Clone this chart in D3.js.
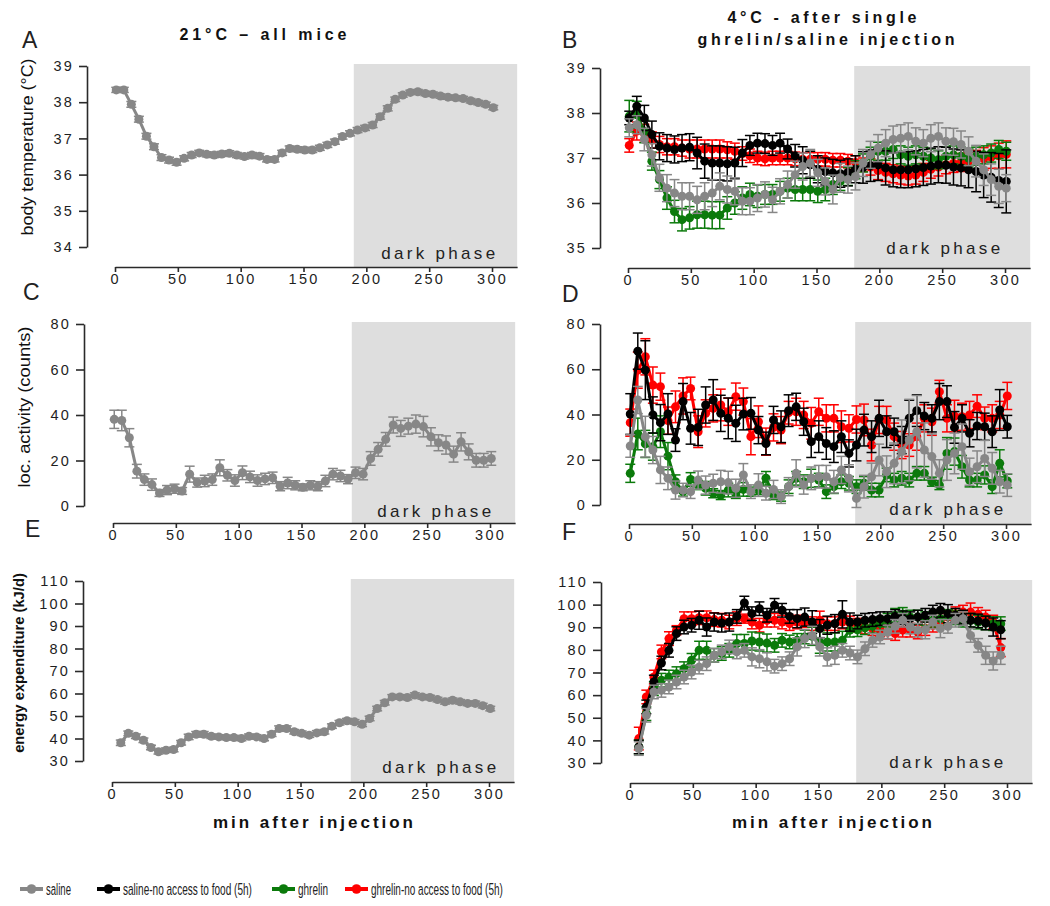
<!DOCTYPE html>
<html><head><meta charset="utf-8">
<script src="https://cdn.jsdelivr.net/npm/d3@7"></script>
<style>
body{margin:0;background:#fff;}
svg text{font-family:"Liberation Sans",Arial,sans-serif;}
</style></head><body>
<svg id="chart" width="1050" height="906"></svg>
<script>
// ---------------- DATA ----------------
const seriesNames = ["saline","saline-no access to food (5h)","ghrelin","ghrelin-no access to food (5h)"];
const tTemp = [1,7,13,19,25,31,37,43,49,55,61,67,73,79,85,91,97,103,109,115,121,127,133,139,145,151,157,163,169,175,181,187,193,199,205,211,217,223,229,235,241,247,253,259,265,271,277,283,289,295,301];
const tEE_left = [7,13,19,25,31,37,43,49,55,61,67,73,79,85,91,97,103,109,115,121,127,133,139,145,151,157,163,169,175,181,187,193,199,205,211,217,223,229,235,241,247,253,259,265,271,277,283,289,295,301];
const tEE_right = [7,13,19,25,31,37,43,49,55,61,67,73,79,85,91,97,103,109,115,121,127,133,139,145,151,157,163,169,175,181,187,193,199,205,211,217,223,229,235,241,247,253,259,265,271,277,283,289,295];

const xTicks = [0,50,100,150,200,250,300];
const tempTicksA = [34,35,36,37,38,39];
const tempTicksB = [35,36,37,38,39];
const actTicks = [0,20,40,60,80];
const eeTicks = [30,40,50,60,70,80,90,100,110];

// A: body temperature, 21°C, saline
const tempA = [38.34,38.34,37.94,37.53,37.06,36.77,36.47,36.40,36.34,36.45,36.54,36.60,36.56,36.54,36.57,36.59,36.54,36.50,36.54,36.51,36.42,36.42,36.60,36.72,36.70,36.68,36.68,36.74,36.82,36.91,37.05,37.14,37.23,37.29,37.37,37.60,37.83,38.08,38.20,38.27,38.29,38.24,38.22,38.17,38.14,38.12,38.10,38.04,37.99,37.94,37.85];
const tempAerr = [0.07,0.07,0.08,0.08,0.08,0.08,0.08,0.08,0.08,0.07,0.07,0.07,0.07,0.07,0.07,0.07,0.07,0.07,0.07,0.07,0.07,0.07,0.07,0.07,0.07,0.07,0.07,0.07,0.07,0.07,0.07,0.07,0.07,0.07,0.07,0.07,0.07,0.06,0.06,0.06,0.06,0.06,0.06,0.06,0.06,0.06,0.06,0.06,0.06,0.06,0.06];

// B: body temperature, 4°C
const tempB_saline = [37.67,37.74,37.41,37.07,36.56,36.33,36.22,36.15,36.15,36.07,36.15,36.22,36.37,36.3,36.26,36.04,36.04,36.11,36.19,36.07,36.26,36.41,36.63,36.81,36.89,36.67,36.48,36.3,36.56,36.52,36.59,36.89,37.07,37.22,37.33,37.41,37.44,37.48,37.37,37.33,37.44,37.48,37.37,37.36,37.3,37.15,36.93,36.74,36.52,36.37,36.33];
const tempB_salineErr = [0.2,0.2,0.25,0.25,0.3,0.3,0.3,0.3,0.3,0.3,0.3,0.3,0.3,0.3,0.3,0.3,0.3,0.3,0.28,0.28,0.28,0.3,0.3,0.3,0.3,0.3,0.3,0.32,0.32,0.3,0.3,0.3,0.3,0.3,0.3,0.3,0.3,0.3,0.3,0.3,0.3,0.3,0.3,0.3,0.3,0.32,0.35,0.35,0.35,0.38,0.3];
const tempB_salineNF = [37.89,38.15,37.89,37.52,37.26,37.22,37.19,37.22,37.24,37.11,36.93,36.89,36.89,36.87,36.89,37.11,37.28,37.33,37.32,37.28,37.33,37.2,37.05,36.95,36.85,36.75,36.7,36.67,36.65,36.68,36.75,36.79,36.83,36.85,36.78,36.74,36.74,36.74,36.76,36.79,36.82,36.85,36.84,36.8,36.78,36.74,36.7,36.62,36.57,36.5,36.48];
const tempB_salineNFErr = [0.15,0.22,0.28,0.3,0.3,0.3,0.3,0.3,0.3,0.35,0.38,0.38,0.38,0.38,0.35,0.3,0.22,0.22,0.22,0.22,0.22,0.22,0.25,0.3,0.3,0.3,0.3,0.3,0.3,0.3,0.3,0.35,0.35,0.35,0.38,0.38,0.4,0.4,0.4,0.4,0.4,0.4,0.4,0.4,0.4,0.4,0.45,0.5,0.55,0.6,0.7];
const tempB_ghrelin = [37.93,37.96,37.59,36.93,36.52,36.11,35.81,35.63,35.67,35.74,35.74,35.73,35.73,35.89,36.0,36.11,36.19,36.15,36.19,36.19,36.26,36.33,36.3,36.3,36.3,36.26,36.3,36.41,36.48,36.59,36.74,36.89,37.04,37.15,37.15,37.19,37.07,37.04,37.07,37.04,37.0,36.96,37.04,37.07,37.04,37.0,37.04,37.07,37.11,37.19,37.15];
const tempB_ghrelinErr = [0.35,0.3,0.25,0.2,0.2,0.25,0.25,0.25,0.25,0.3,0.3,0.3,0.3,0.25,0.25,0.25,0.25,0.25,0.22,0.22,0.22,0.22,0.25,0.25,0.25,0.25,0.25,0.22,0.2,0.2,0.2,0.2,0.2,0.2,0.2,0.2,0.2,0.2,0.2,0.2,0.2,0.2,0.2,0.2,0.2,0.2,0.2,0.2,0.2,0.2,0.2];
const tempB_ghrelinNF = [37.28,37.6,37.55,37.4,37.3,37.25,37.25,37.22,37.2,37.2,37.2,37.2,37.2,37.18,37.15,37.1,37.05,37.0,36.98,37.0,37.0,37.0,36.98,36.97,36.97,36.97,36.97,36.95,36.95,36.93,36.9,36.85,36.8,36.72,36.68,36.65,36.62,36.6,36.62,36.68,36.75,36.8,36.85,36.88,36.9,36.93,36.95,36.98,37.02,37.05,37.08];
const tempB_ghrelinNFErr = [0.15,0.2,0.2,0.18,0.18,0.18,0.18,0.18,0.2,0.2,0.2,0.2,0.2,0.18,0.18,0.15,0.15,0.15,0.15,0.15,0.15,0.15,0.15,0.15,0.15,0.15,0.15,0.15,0.15,0.15,0.15,0.15,0.18,0.2,0.2,0.2,0.2,0.2,0.2,0.2,0.2,0.2,0.2,0.2,0.2,0.2,0.22,0.25,0.25,0.28,0.3];

// C: locomotor activity, 21°C, saline
const actC = [38.1,37.6,30,15.3,11.6,9.4,5.7,7,7.6,6.6,14,10.3,11,11.6,16.8,13.5,11.2,14.6,12.8,11.2,11.9,12.4,8.7,10.1,9.1,8.2,9.1,8.7,11,14,13.2,11.8,14.6,14,20.9,24.9,29.3,35.6,34.1,35.1,36,34.9,30.4,27.8,26.8,22.8,28.2,23.8,20.1,20.1,20.9];
const actCerr = [4,4.5,4,3,2.5,2.5,1.5,2,2,1.5,3.5,2,2.5,2.5,3.5,2.5,2.5,3,2.5,2.5,2.5,2.5,2,2.5,2,1.5,2,2,2.5,2.5,2.5,2,2.5,2.5,3,3,3,3.5,3.5,3.5,4,4.5,4,3.5,4,3.5,4,3.5,3,3,3];

// D: locomotor activity, 4°C
const actD_saline = [26.1,46.4,30.2,24.3,15.5,11.8,6.6,6.6,5.9,11,8.8,9.6,10.3,9.9,7.4,13.3,5.9,8.8,5.2,6.9,3.7,8.1,14,8.8,11.8,12.5,12.5,10.3,15.5,11.8,2.9,8.1,12.5,19.9,14.7,18.4,23.6,28.7,32.4,24.3,21.4,14,19.9,22.8,25.8,14.7,16.9,20.6,16.2,10.3,8.8];
const actD_salineErr = [5,6,9,6,6,5,4,3,3,4,4,4,5,5,4,5,3,5,3,4,3,4,6,4,5,5,5,5,6,6,4,5,6,7,7,9,14,18,16,12,10,6,9,9,10,6,7,8,7,5,5];
const actD_salineNF = [40.2,68,59.6,39.8,36.4,40.2,28.7,45.7,33.9,34.3,44.2,46.4,40.5,38.3,36.1,40.2,40.5,33.1,27.2,37.6,34.6,41.7,43.4,36.8,28,30.2,27.2,25.8,30.2,22.8,26.5,33.1,30.2,38.3,32.4,32.4,28.7,38.3,41.7,39.3,38.3,45.7,45.7,34.3,38.3,31.7,34.9,34.6,32.4,42,34.6];
const actD_salineNFErr = [9,8,13,8,8,9,5,8,7,8,8,9,8,9,8,7,7,6,5,6,7,7,6,6,7,7,7,7,7,6,7,7,7,8,7,6,6,8,7,6,6,8,7,7,6,6,6,6,7,9,5];
const actD_ghrelin = [14,31.4,27,25.8,32.4,21.6,10.3,5.9,11.3,8.8,7.4,5.2,4.4,6.6,4.9,6.9,5.9,6.6,11.8,4.4,3.7,8.1,11.8,10.3,11.8,11,5.9,8.1,10.3,9.6,8.1,9.6,6.6,6.6,13.3,11,11.8,11,14,14,10.3,8.8,22.8,23.6,16.9,11,11,13.3,8.1,18.4,10.6];
const actD_ghrelinErr = [4,7,6,6,7,6,3,2,3,2,3,2,2,3,2,3,2,2,3,2,2,3,3,3,4,3,3,3,3,3,3,3,3,3,3,3,3,3,3,3,2,2,7,6,5,3,3,4,3,6,3];
const actD_ghrelinNF = [36.4,59.6,65.5,53,52.3,37.3,43.4,48.2,51.5,32.4,40.5,42.7,44.2,41.2,47.9,45.7,30.2,36.8,28,34.3,33.1,40.8,41.2,39.8,36.1,41.2,38.3,38.3,34.6,33.9,37.8,37.6,26.5,37.6,37.6,30.2,26.5,26.5,30.2,38.3,36.8,50.1,38.3,39.3,39,39.8,43.7,38.3,38.3,39.8,48.2];
const actD_ghrelinNFErr = [6,8,8,8,6,6,7,8,5,7,6,6,7,6,6,6,8,7,6,6,6,5,6,6,7,6,6,6,7,6,6,7,7,6,6,6,6,5,6,6,6,5,6,7,6,6,5,5,6,6,6];

// E: energy expenditure, 21°C, saline
const eeE = [38.1,42.3,41.0,39.2,36.0,34.1,34.8,35.1,38.1,40.7,41.9,41.9,41.0,40.7,40.4,40.4,40.0,41.0,40.7,40.0,41.9,44.4,44.4,43.0,42.3,41.5,42.5,43.0,45.5,47.0,47.9,47.4,46.3,48.9,53.3,55.9,58.5,58.5,58.2,59.3,58.5,58.2,57.3,56.3,57.0,56.3,55.6,55.6,54.6,53.3];
const eeEerr = [1.2,1,1,1,1,1,1,1,1,1.2,1.2,1.2,1,1,1,1,1,1,1,1,1,1.2,1.2,1,1,1,1,1,1,1,1,1,1,1,1,1,1,1,1,1,1,1,1,1,1,1,1,1,1,1];

// F: energy expenditure, 4°C
const eeF_saline = [36.4,51.1,61.4,62.1,63.6,65.8,68.0,70.2,72.4,73.9,77.6,79.1,81.3,79.1,79.8,76.9,76.1,74.7,72.8,73.9,76.1,81.3,85.0,86.4,81.3,76.9,77.6,79.8,78.6,76.9,80.5,84.2,85.7,87.9,90.4,93.1,90.1,88.7,88.9,92.3,89.4,90.4,93.1,93.8,86.4,82.0,77.6,75.1,77.6];
const eeF_salineErr = [3,3,3,3,3,3,3,3,3,3,3,3,3,3,3,4,4,4,3,3,3,4,4,4,4,4,4,3,3,3,3,3,3,3,3,3,3,3,4,3,4,3,3,3,3,3,4,4,4];
const eeF_salineNF = [37.1,54.8,65.8,74.2,79.8,87.2,90.1,90.9,93.1,90.1,92.3,91.9,92.3,94.8,100.7,96,98.2,95.3,99.7,97.5,94.8,93.8,94.5,92.3,89.4,90.9,91.6,95.7,92.3,92.3,93.1,93.4,93.8,93.8,94.8,94.2,93.8,94.5,95.3,96.7,97.5,96,95.3,94.5,93.1,92.8,91.9,90.1,88.9];
const eeF_salineNFErr = [3,3,3,3,3,3,3,3,4,4,4,4,4,3,3,3,3,3,3,3,3,4,4,5,4,4,4,6,4,3,3,3,3,3,3,3,3,3,3,3,3,4,3,3,3,3,3,4,4];
const eeF_ghrelin = [37.1,51.8,62.9,66.6,68.0,69.5,71.7,75.4,79.8,79.8,77.6,78.4,79.8,82.8,82.8,83.9,83.5,83.0,82.0,84.2,83.5,84.2,85.7,86.0,83.5,83.5,83.5,84.2,88.7,88.9,89.8,90.4,91.6,93.1,95.3,95.7,94.5,94.5,93.8,93.1,93.8,94.8,94.2,93.1,93.1,92.3,91.9,91.6,91.6];
const eeF_ghrelinErr = [3,3,3,3,3,3,3,3,4,4,3,3,3,4,4,4,4,4,3,3,3,3,3,4,5,4,4,4,3,3,3,3,3,3,3,3,3,3,3,3,3,3,3,3,3,3,3,3,3];
const eeF_ghrelinNF = [40.8,59.2,68.0,79.1,85.0,88.7,93.8,93.8,94.2,94.2,93.4,93.1,92.3,93.8,93.8,92.3,90.9,93.1,93.1,92.3,91.6,92.3,91.9,91.6,93.1,91.6,91.6,92.3,91.9,90.9,90.1,89.4,88.9,87.9,87.2,88.7,88.7,87.9,89.4,90.9,93.1,94.5,96.0,96.7,96.7,95.7,94.5,92.3,81.0];
const eeF_ghrelinNFErr = [5,3,3,3,3,2,3,3,3,3,3,3,3,3,2,3,3,3,3,3,3,3,2,3,4,3,3,3,3,3,3,3,3,3,3,3,3,3,3,3,3,3,3,3,4,3,3,3,4];

// ---------------- STYLE ----------------
const colorOf = {
  "saline": "#878787",
  "saline-no access to food (5h)": "#000000",
  "ghrelin": "#0b7a0b",
  "ghrelin-no access to food (5h)": "#ff0000"
};
const drawOrder = ["ghrelin-no access to food (5h)","ghrelin","saline-no access to food (5h)","saline"];
const AX = "#2a2a2a";
const PXPERMIN = 1.2567;

const svg = d3.select("#chart");

function drawPanel(cfg) {
  const g = svg.append("g");
  const x = d3.scaleLinear().domain([0, 320]).range([cfg.x0, cfg.x0 + 320 * PXPERMIN]);
  const y = d3.scaleLinear().domain(cfg.yDomain).range([cfg.yBottom, cfg.yTop]);

  // dark phase
  g.append("rect")
    .attr("x", x(cfg.darkStart)).attr("width", x(320) - x(cfg.darkStart))
    .attr("y", cfg.yTop - 2).attr("height", cfg.xAxisY - cfg.yTop + 2)
    .attr("fill", "#dedede");
  g.append("text")
    .attr("x", x(320) - cfg.darkRight).attr("y", cfg.xAxisY - cfg.darkLift)
    .attr("text-anchor", "end").attr("font-size", 17).attr("fill", "#222")
    .attr("textLength", 114).attr("lengthAdjust", "spacing")
    .text("dark phase");

  // axes
  const ya = g.append("g").attr("transform", `translate(${cfg.yAxisX},0)`)
    .call(d3.axisLeft(y).tickValues(cfg.yTicks).tickFormat(d3.format("d"))
      .tickSize(8).tickPadding(5).tickSizeOuter(0));
  const xa = g.append("g").attr("transform", `translate(0,${cfg.xAxisY})`)
    .call(d3.axisBottom(x).tickValues(xTicks).tickFormat(d3.format("d"))
      .tickSize(5).tickPadding(2).tickSizeOuter(0));
  [ya, xa].forEach(a => {
    a.attr("font-family", null).attr("font-size", null);
    a.select(".domain").attr("stroke", AX).attr("stroke-width", 1.6);
    a.selectAll(".tick line").attr("stroke", AX).attr("stroke-width", 1.6);
    a.selectAll(".tick text").attr("fill", "#1e1e1e").attr("font-size", 14.5)
      .style("letter-spacing", "2.2px");
  });

  // series
  const errHalf = 5;
  cfg.series.sort((a, b) => drawOrder.indexOf(a.name) - drawOrder.indexOf(b.name));
  cfg.series.forEach(s => {
    const col = colorOf[s.name];
    const pts = s.t.map((t, i) => ({ t: t, v: s.v[i], e: s.e ? s.e[i] : 0 })).filter(d => d.v != null);
    const sg = g.append("g");
    const eb = sg.selectAll("g.eb").data(pts).join("g").attr("class", "eb")
      .attr("stroke", col).attr("stroke-width", 1.5);
    eb.append("line").attr("x1", d => x(d.t)).attr("x2", d => x(d.t))
      .attr("y1", d => y(d.v - d.e)).attr("y2", d => y(d.v + d.e));
    eb.append("line").attr("x1", d => x(d.t) - errHalf).attr("x2", d => x(d.t) + errHalf)
      .attr("y1", d => y(d.v + d.e)).attr("y2", d => y(d.v + d.e));
    eb.append("line").attr("x1", d => x(d.t) - errHalf).attr("x2", d => x(d.t) + errHalf)
      .attr("y1", d => y(d.v - d.e)).attr("y2", d => y(d.v - d.e));
    sg.append("path").datum(pts)
      .attr("d", d3.line().x(d => x(d.t)).y(d => y(d.v)))
      .attr("fill", "none").attr("stroke", col).attr("stroke-width", 3);
    sg.selectAll("circle").data(pts).join("circle")
      .attr("cx", d => x(d.t)).attr("cy", d => y(d.v)).attr("r", 4.5).attr("fill", col);
  });

  // panel letter
  svg.append("text").attr("x", cfg.letter[1]).attr("y", cfg.letter[2])
    .attr("font-size", 23).attr("fill", "#222").text(cfg.letter[0]);
}

// Panels
drawPanel({ x0: 115, yAxisX: 87, yTop: 66, yBottom: 247, yDomain: [34, 39], yTicks: tempTicksA,
  xAxisY: 267, darkStart: 190, darkRight: 22, darkLift: 8, letter: ["A", 22, 48],
  series: [{ name: "saline", t: tTemp, v: tempA, e: tempAerr }] });
drawPanel({ x0: 628, yAxisX: 600, yTop: 68, yBottom: 248, yDomain: [35, 39], yTicks: tempTicksB,
  xAxisY: 268, darkStart: 180, darkRight: 30, darkLift: 14, letter: ["B", 562, 48],
  series: [
    { name: "saline", t: tTemp, v: tempB_saline, e: tempB_salineErr },
    { name: "saline-no access to food (5h)", t: tTemp, v: tempB_salineNF, e: tempB_salineNFErr },
    { name: "ghrelin", t: tTemp, v: tempB_ghrelin, e: tempB_ghrelinErr },
    { name: "ghrelin-no access to food (5h)", t: tTemp, v: tempB_ghrelinNF, e: tempB_ghrelinNFErr }] });
drawPanel({ x0: 113, yAxisX: 84, yTop: 324, yBottom: 506, yDomain: [0, 80], yTicks: actTicks,
  xAxisY: 523, darkStart: 190, darkRight: 24, darkLift: 6, letter: ["C", 23, 300],
  series: [{ name: "saline", t: tTemp, v: actC, e: actCerr }] });
drawPanel({ x0: 629, yAxisX: 600, yTop: 324, yBottom: 505, yDomain: [0, 80], yTicks: actTicks,
  xAxisY: 524, darkStart: 180, darkRight: 28, darkLift: 9, letter: ["D", 562, 302],
  series: [
    { name: "saline", t: tTemp, v: actD_saline, e: actD_salineErr },
    { name: "saline-no access to food (5h)", t: tTemp, v: actD_salineNF, e: actD_salineNFErr },
    { name: "ghrelin", t: tTemp, v: actD_ghrelin, e: actD_ghrelinErr },
    { name: "ghrelin-no access to food (5h)", t: tTemp, v: actD_ghrelinNF, e: actD_ghrelinNFErr }] });
drawPanel({ x0: 112, yAxisX: 83, yTop: 581, yBottom: 761, yDomain: [30, 110], yTicks: eeTicks,
  xAxisY: 782, darkStart: 190, darkRight: 18, darkLift: 9, letter: ["E", 25, 537],
  series: [{ name: "saline", t: tEE_left, v: eeE, e: eeEerr }] });
drawPanel({ x0: 630, yAxisX: 601, yTop: 582, yBottom: 763, yDomain: [30, 110], yTicks: eeTicks,
  xAxisY: 783, darkStart: 180, darkRight: 29, darkLift: 15, letter: ["F", 562, 540],
  series: [
    { name: "saline", t: tEE_right, v: eeF_saline, e: eeF_salineErr },
    { name: "saline-no access to food (5h)", t: tEE_right, v: eeF_salineNF, e: eeF_salineNFErr },
    { name: "ghrelin", t: tEE_right, v: eeF_ghrelin, e: eeF_ghrelinErr },
    { name: "ghrelin-no access to food (5h)", t: tEE_right, v: eeF_ghrelinNF, e: eeF_ghrelinNFErr }] });

// Titles
function boldText(txt, cx, cy, size, len) {
  svg.append("text").attr("x", cx).attr("y", cy).attr("text-anchor", "middle")
    .attr("font-size", size).attr("font-weight", "bold").attr("fill", "#111")
    .attr("textLength", len).attr("lengthAdjust", "spacing").text(txt);
}
boldText("21°C – all mice", 263, 40, 16, 167);
boldText("4°C - after single", 822, 23, 16, 189);
boldText("ghrelin/saline injection", 826, 45, 16, 257);
boldText("min after injection", 313, 828, 17, 200);
boldText("min after injection", 832, 828, 17, 200);

// Y axis titles (scaled horizontally to fit their length in the reference)
function yTitle(txt, cx, cy, size, len, weight) {
  const t = svg.append("text").attr("text-anchor", "middle").attr("font-size", size)
    .attr("font-weight", weight).attr("fill", "#111").text(txt);
  const nat = t.node().getComputedTextLength();
  t.attr("transform", `translate(${cx},${cy}) rotate(-90) scale(${len / nat},1)`);
}
yTitle("body temperature (°C)", 33, 147, 17, 177, "normal");
yTitle("loc. activity (counts)", 30, 407, 17, 161, "normal");
yTitle("energy expenditure (kJ/d)", 24, 663, 15, 180, "bold");

// Legend (narrow text, compressed by a horizontal scale)
const legendX = [20, 97, 272, 345];
const legendTextLen = [25, 129, 30, 132];
const lg = svg.append("g").attr("transform", "translate(0,889)");
seriesNames.forEach((n, i) => {
  const x0 = legendX[i];
  lg.append("line").attr("x1", x0).attr("x2", x0 + 23).attr("y1", 0).attr("y2", 0)
    .attr("stroke", colorOf[n]).attr("stroke-width", 4);
  lg.append("circle").attr("cx", x0 + 11.5).attr("cy", 0).attr("r", 4.8).attr("fill", colorOf[n]);
  const t = lg.append("text").attr("font-size", 17).attr("fill", "#222").text(n);
  const nat = t.node().getComputedTextLength();
  t.attr("transform", `translate(${x0 + 26},5.5) scale(${legendTextLen[i] / nat},1)`);
});
</script>
</body></html>
